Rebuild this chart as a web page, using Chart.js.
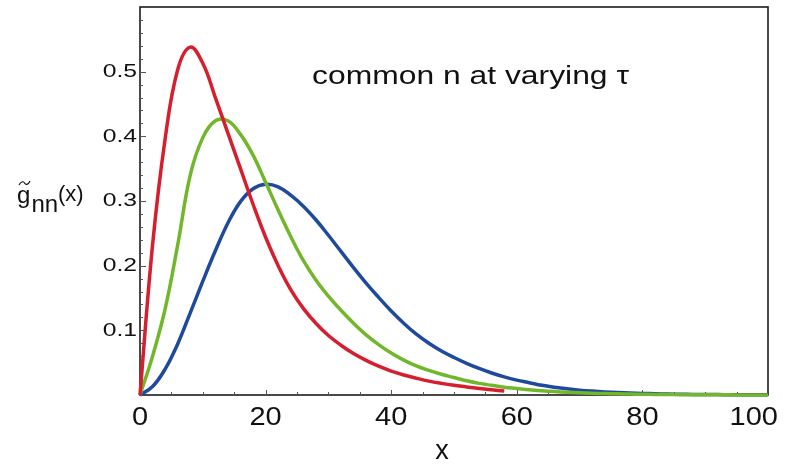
<!DOCTYPE html>
<html>
<head>
<meta charset="utf-8">
<script src="https://cdn.jsdelivr.net/npm/chart.js@4/dist/chart.umd.min.js"></script>
<style>
  html, body { margin: 0; padding: 0; background: #fff; }
  #wrap { width: 787px; height: 464px; }
</style>
</head>
<body>
<div id="wrap"><canvas id="gnnChart"></canvas></div>
<script>
// sample positions along x (every 2 units)
const xs = [0, 2, 4, 6, 8, 10, 12, 14, 16, 18, 20, 22, 24, 26, 28, 30, 32, 34, 36, 38, 40,
            42, 44, 46, 48, 50, 52, 54, 56, 58, 60, 62, 64, 66, 68, 70, 72, 74, 76, 78, 80,
            82, 84, 86, 88, 90, 92, 94, 96, 98, 100];

// red curve stops at x = 58
const redVals = [0, 0.232, 0.396, 0.503, 0.538, 0.513, 0.460, 0.405, 0.350, 0.295, 0.244,
                 0.200, 0.163, 0.134, 0.111, 0.092, 0.077, 0.064, 0.0535, 0.0445, 0.037,
                 0.031, 0.026, 0.0215, 0.018, 0.015, 0.0125, 0.010, 0.008, 0.0063,
                 null, null, null, null, null, null, null, null, null, null, null,
                 null, null, null, null, null, null, null, null, null, null];

const greenVals = [0, 0.060, 0.133, 0.232, 0.340, 0.398, 0.424, 0.424, 0.403, 0.371, 0.329,
                   0.286, 0.245, 0.208, 0.178, 0.153, 0.131, 0.111, 0.093, 0.078, 0.065,
                   0.054, 0.045, 0.038, 0.032, 0.027, 0.022, 0.018, 0.015, 0.012, 0.010,
                   0.008, 0.0065, 0.0053, 0.0043, 0.0035, 0.0028, 0.0022, 0.0018, 0.0014, 0.0011,
                   0.0009, 0.0007, 0.0005, 0.0004, 0.0003, 0.00025, 0.0002, 0.00015, 0.0001, 0.0001];

const blueVals = [0, 0.013, 0.040, 0.079, 0.127, 0.176, 0.223, 0.266, 0.299, 0.319, 0.326,
                  0.322, 0.309, 0.292, 0.271, 0.247, 0.222, 0.197, 0.173, 0.151, 0.130,
                  0.111, 0.094, 0.080, 0.068, 0.058, 0.049, 0.041, 0.034, 0.028, 0.023,
                  0.019, 0.015, 0.012, 0.0095, 0.0075, 0.006, 0.0048, 0.0038, 0.003, 0.0024,
                  0.0019, 0.0015, 0.0012, 0.0009, 0.0007, 0.0006, 0.0005, 0.0004, 0.0003, 0.0002];

const xMajor = [0, 20, 40, 60, 80, 100];
const yMajor = [0.1, 0.2, 0.3, 0.4, 0.5];
const yLabels = ['0.1', '0.2', '0.3', '0.4', '0.5'];
const annotation = 'common n at varying \u03c4';

function pairs(vals) {
    return xs.map((x, i) => ({ x: x, y: vals[i] }));
}

function stretchText(ctx, text, x, y, sx, align) {
    ctx.save();
    ctx.translate(x, y);
    ctx.scale(sx, 1);
    ctx.textAlign = align;
    ctx.fillText(text, 0, 0);
    ctx.restore();
}

// frame + inner ticks, drawn under the curves
const framePlugin = {
    id: 'frame',
    beforeDatasetsDraw(chart) {
        const { ctx, chartArea: a, scales: { x, y } } = chart;
        ctx.save();
        ctx.strokeStyle = '#1c1c1c';
        ctx.lineWidth = 1.6;
        ctx.strokeRect(a.left, a.top, a.right - a.left, a.bottom - a.top);

        ctx.lineWidth = 1;
        ctx.strokeStyle = '#555';
        ctx.beginPath();
        for (let v = 5; v < 100; v += 5) {
            const px = Math.round(x.getPixelForValue(v)) + 0.5;
            const len = v % 20 === 0 ? 5 : 3;
            ctx.moveTo(px, a.bottom);
            ctx.lineTo(px, a.bottom - len);
        }
        for (let k = 1; k < 30; k++) {
            const py = Math.round(y.getPixelForValue(k * 0.02)) + 0.5;
            const len = k % 5 === 0 ? 6 : 3;
            ctx.moveTo(a.left, py);
            ctx.lineTo(a.left + len, py);
        }
        ctx.stroke();
        ctx.restore();
    },
    afterDraw(chart) {
        const { ctx, scales: { x, y } } = chart;
        const W = chart.width;
        ctx.save();
        ctx.fillStyle = '#111';

        // y tick labels
        ctx.font = '19px "Liberation Sans", Arial, sans-serif';
        ctx.textBaseline = 'middle';
        yMajor.forEach((v, i) => stretchText(ctx, yLabels[i], 137, y.getPixelForValue(v), 1.3, 'right'));

        // x tick labels, last one kept inside the canvas
        ctx.font = '25px "Liberation Sans", Arial, sans-serif';
        ctx.textBaseline = 'alphabetic';
        xMajor.forEach(v => {
            const t = String(v);
            const w = ctx.measureText(t).width * 1.16;
            let px = x.getPixelForValue(v);
            if (px + w / 2 > W - 9) px = W - 9 - w / 2;
            stretchText(ctx, t, px, 425, 1.16, 'center');
        });

        // x axis title
        ctx.font = '27px "Liberation Sans", Arial, sans-serif';
        stretchText(ctx, 'x', 442, 459, 1, 'center');

        // annotation
        ctx.font = '25px "Liberation Sans", Arial, sans-serif';
        const aw = ctx.measureText(annotation).width;
        stretchText(ctx, annotation, 312, 84, 317 / aw, 'left');

        // y axis title: g~ nn (x)
        ctx.font = '24px "Liberation Sans", Arial, sans-serif';
        ctx.textAlign = 'left';
        ctx.fillText('g', 17, 203);
        ctx.fillText('nn', 31.5, 212);
        ctx.font = '22px "Liberation Sans", Arial, sans-serif';
        ctx.fillText('(x)', 58, 201);
        ctx.strokeStyle = '#111';
        ctx.lineWidth = 1.2;
        ctx.beginPath();
        ctx.moveTo(19, 185);
        ctx.bezierCurveTo(21.5, 180.5, 24, 181.5, 24.5, 183);
        ctx.bezierCurveTo(25.5, 185, 28, 185.5, 30, 181);
        ctx.stroke();
        ctx.restore();
    }
};

document.addEventListener('DOMContentLoaded', function () {
    const ctx = document.getElementById('gnnChart');
    const lineStyle = {
        borderWidth: 3.5,
        pointRadius: 0,
        fill: false,
        tension: 0.4,
        spanGaps: false,
        clip: false
    };

    new Chart(ctx, {
        type: 'line',
        data: {
            datasets: [
                Object.assign({ label: 'red', data: pairs(redVals), borderColor: '#d51f2f', order: 1 }, lineStyle),
                Object.assign({ label: 'green', data: pairs(greenVals), borderColor: '#72b62b', order: 2 }, lineStyle),
                Object.assign({ label: 'blue', data: pairs(blueVals), borderColor: '#1f4a9b', order: 3 }, lineStyle)
            ]
        },
        options: {
            responsive: true,
            maintainAspectRatio: false,
            animation: false,
            layout: { padding: { left: 140, right: 19, top: 7, bottom: 69 } },
            plugins: {
                legend: { display: false },
                tooltip: { enabled: false }
            },
            scales: {
                x: { type: 'linear', min: 0, max: 100, display: false },
                y: { type: 'linear', min: 0, max: 0.6, display: false }
            }
        },
        plugins: [framePlugin]
    });
});
</script>
</body>
</html>
